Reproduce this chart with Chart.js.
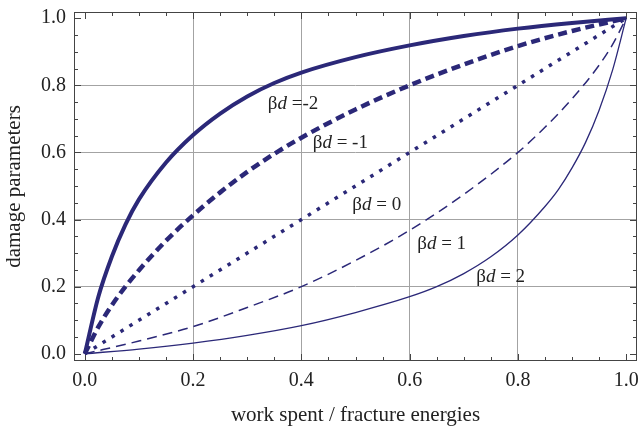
<!DOCTYPE html>
<html><head><meta charset="utf-8">
<script src="https://cdn.jsdelivr.net/npm/chart.js@4.4.1/dist/chart.umd.min.js"></script>
<style>html,body{margin:0;padding:0;background:#fff;}#wrap{width:640px;height:429px;}</style>
</head><body><div id="wrap"><canvas id="c" width="640" height="429"></canvas></div>
<script>
// ---- data ----
const xNeg2 = [0, 0.025, 0.05, 0.075, 0.1, 0.15, 0.2, 0.25, 0.3, 0.35, 0.4, 0.5, 0.6, 0.7, 0.8, 0.9, 1.0];
const yNeg2 = [0, 0.17, 0.29, 0.385, 0.46, 0.57, 0.652, 0.716, 0.767, 0.807, 0.838, 0.884, 0.919, 0.947, 0.969, 0.986, 1.0];
const xNeg1 = [0, 0.025, 0.05, 0.075, 0.1, 0.15, 0.2, 0.25, 0.3, 0.35, 0.4, 0.5, 0.6, 0.7, 0.8, 0.9, 1.0];
const yNeg1 = [0, 0.08, 0.145, 0.2, 0.249, 0.337, 0.413, 0.481, 0.542, 0.596, 0.644, 0.728, 0.8, 0.862, 0.917, 0.962, 1.0];
const xZero = [0, 1.0];
const yZero = [0, 1.0];
const xPos1 = [0, 0.1, 0.2, 0.3, 0.4, 0.5, 0.6, 0.7, 0.8, 0.85, 0.9, 0.95, 0.975, 1.0];
const yPos1 = [0, 0.038, 0.081, 0.138, 0.2, 0.278, 0.368, 0.475, 0.60, 0.675, 0.76, 0.86, 0.922, 1.0];
const xPos2 = [0, 0.1, 0.2, 0.3, 0.4, 0.5, 0.6, 0.65, 0.7, 0.75, 0.8, 0.85, 0.875, 0.9, 0.925, 0.95, 0.975, 1.0];
const yPos2 = [0, 0.014, 0.032, 0.055, 0.084, 0.123, 0.17, 0.2, 0.239, 0.289, 0.354, 0.439, 0.49, 0.554, 0.63, 0.726, 0.846, 1.0];
const seriesValues = ['-2', '-1', '0', '1', '2'];
const seriesLabelTexts = [' =-2', ' = -1', ' = 0', ' = 1', ' = 2'];
const tickLabels = ['0.0', '0.2', '0.4', '0.6', '0.8', '1.0'];
const xTitle = 'work spent / fracture energies';
const yTitle = 'damage parameters';

// ---- styling / layout ----
const COLOR = '#2b2878';
const SERIF = '"Liberation Serif", "Times New Roman", serif';
const labelPos = [[0.338, 0.745], [0.421, 0.628], [0.494, 0.443], [0.614, 0.328], [0.723, 0.229]];

const pts = (xs, ys) => xs.map((x, i) => ({x: x, y: ys[i]}));
const styles = [
  {borderWidth: 4, borderDash: []},
  {borderWidth: 4.5, borderDash: [9, 5]},
  {borderWidth: 3.5, borderDash: [3.5, 7]},
  {borderWidth: 1.5, borderDash: [10, 6]},
  {borderWidth: 1.3, borderDash: []}
];
const seriesData = [pts(xNeg2, yNeg2), pts(xNeg1, yNeg1), pts(xZero, yZero), pts(xPos1, yPos1), pts(xPos2, yPos2)];
const datasets = seriesData.map((d, i) => Object.assign({
  label: 'βd = ' + seriesValues[i], data: d, borderColor: COLOR, backgroundColor: COLOR,
  pointRadius: 0, fill: false, cubicInterpolationMode: 'monotone', borderCapStyle: 'butt'
}, styles[i]));

const isMajor = v => Math.abs(v / 0.2 - Math.round(v / 0.2)) < 1e-6;
const fmt = v => isMajor(v) ? tickLabels[Math.round(v / 0.2)] : '';
const gridColor = ctx => {
  const v = ctx.tick ? ctx.tick.value : null;
  return (v !== null && isMajor(v) && v > 0.01 && v < 0.99) ? '#a3a3a3' : 'rgba(0,0,0,0)';
};
const zeroPad = s => { s.paddingLeft = 0; s.paddingRight = 0; s.paddingTop = 0; s.paddingBottom = 0; };

const framePlugin = {
  id: 'frame',
  beforeDatasetsDraw(chart) {
    const {ctx, chartArea: a, scales} = chart;
    ctx.save();
    ctx.strokeStyle = '#444';
    ctx.lineWidth = 1;
    ctx.strokeRect(a.left + 0.5, a.top + 0.5, a.right - a.left - 1, a.bottom - a.top - 1);
    ctx.beginPath();
    scales.x.ticks.forEach(t => {
      const px = Math.round(scales.x.getPixelForValue(t.value)) + 0.5;
      const len = isMajor(t.value) ? 7 : 4;
      ctx.moveTo(px, a.bottom); ctx.lineTo(px, a.bottom - len);
      ctx.moveTo(px, a.top); ctx.lineTo(px, a.top + len);
    });
    scales.y.ticks.forEach(t => {
      const py = Math.round(scales.y.getPixelForValue(t.value)) + 0.5;
      const len = isMajor(t.value) ? 7 : 4;
      ctx.moveTo(a.left, py); ctx.lineTo(a.left + len, py);
      ctx.moveTo(a.right, py); ctx.lineTo(a.right - len, py);
    });
    ctx.stroke();
    ctx.restore();
  }
};

const labelPlugin = {
  id: 'curveLabels',
  afterDatasetsDraw(chart) {
    const {ctx, scales} = chart;
    ctx.save();
    ctx.fillStyle = '#222';
    ctx.textBaseline = 'middle';
    ctx.textAlign = 'left';
    seriesValues.forEach((s, i) => {
      let x = scales.x.getPixelForValue(labelPos[i][0]);
      const y = scales.y.getPixelForValue(labelPos[i][1]);
      const parts = [['β', 'normal'], ['d', 'italic'], [seriesLabelTexts[i], 'normal']];
      parts.forEach(([t, st]) => {
        ctx.font = st + ' 19px ' + SERIF;
        ctx.fillText(t, x, y);
        x += ctx.measureText(t).width;
      });
    });
    ctx.restore();
  }
};

const tickFont = {family: SERIF, size: 20};
const titleFont = {family: SERIF, size: 21};

new Chart(document.getElementById('c'), {
  type: 'line',
  data: {datasets: datasets},
  options: {
    responsive: false, animation: false, devicePixelRatio: 1,
    layout: {padding: {left: 0, top: 12, right: 3, bottom: 0}},
    plugins: {legend: {display: false}, tooltip: {enabled: false}},
    scales: {
      x: {
        type: 'linear', min: -0.02, max: 1.02,
        afterFit(s) { s.height = 68; zeroPad(s); },
        ticks: {stepSize: 0.05, autoSkip: false, maxRotation: 0, minRotation: 0, includeBounds: false,
                padding: 8, color: '#222', font: tickFont, callback: fmt},
        grid: {drawTicks: false, color: gridColor, lineWidth: 1},
        border: {display: false},
        title: {display: true, text: xTitle, color: '#222', font: titleFont, padding: {top: 0, bottom: 1}}
      },
      y: {
        type: 'linear', min: -0.0215, max: 1.0185,
        afterFit(s) { s.width = 74; zeroPad(s); },
        ticks: {stepSize: 0.05, autoSkip: false, includeBounds: false,
                padding: 8, color: '#222', font: tickFont, callback: fmt},
        grid: {drawTicks: false, color: gridColor, lineWidth: 1},
        border: {display: false},
        title: {display: true, text: yTitle, color: '#222', font: titleFont, padding: {top: 1.5, bottom: 0}}
      }
    }
  },
  plugins: [framePlugin, labelPlugin]
});
</script>
</body></html>
